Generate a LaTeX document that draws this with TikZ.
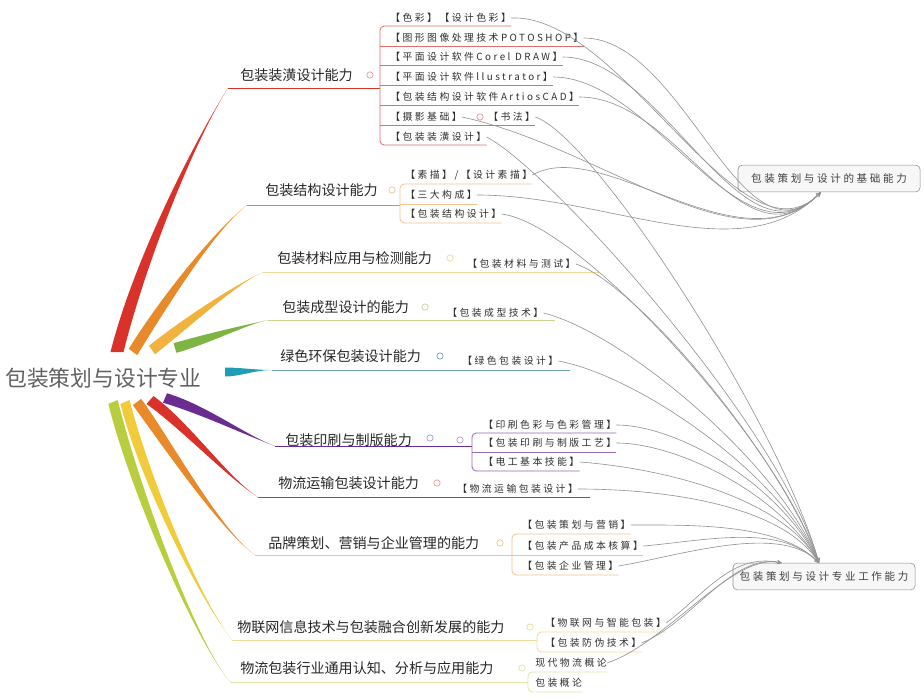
\documentclass[tikz,border=0pt]{standalone}
\usepackage{fontspec}
\newfontfamily\cjk{Noto Sans CJK SC}
\newfontfamily\cjkleaf[LetterSpace=25]{Noto Sans CJK SC}
\usetikzlibrary{calc,arrows.meta}
\definecolor{lred}{HTML}{D9322A}
\definecolor{lpink}{HTML}{DE6F6A}
\definecolor{lorange}{HTML}{E98A2A}
\definecolor{lpeach}{HTML}{F2C28C}
\definecolor{lamber}{HTML}{F1B23E}
\definecolor{lcream}{HTML}{EEDC98}
\definecolor{lgreen}{HTML}{7DB443}
\definecolor{lsage}{HTML}{C6D68E}
\definecolor{lteal}{HTML}{1E9DB4}
\definecolor{lsteel}{HTML}{6FA6B4}
\definecolor{lpurple}{HTML}{6B2C90}
\definecolor{llilac}{HTML}{9467AE}
\definecolor{lyellow}{HTML}{F2CB3A}
\definecolor{llime}{HTML}{B8CE3E}
\definecolor{lpale}{HTML}{DDE6AA}
\newcommand\limb[6]{\fill[#1] ($(#2)-(#6)$) .. controls ($(#3)-(#6)$) and (#4) .. (#5) .. controls (#4) and ($(#3)+(#6)$) .. ($(#2)+(#6)$) -- cycle;}
\tikzset{
  root/.style={font=\cjk\fontsize{15.5}{18}\selectfont, text=black!62, inner sep=0pt, anchor=west},
  topic/.style={font=\cjk\fontsize{10}{12}\selectfont, text=black!85, inner sep=0pt, anchor=west},
  leaf/.style={font=\cjkleaf\fontsize{7}{8.4}\selectfont, text=black!82, inner sep=0pt, anchor=west},
  target/.style={draw=black!45, fill=black!3, rounded corners=3pt, font=\cjkleaf\fontsize{7.5}{9}\selectfont, text=black!75, minimum width=4.55cm, minimum height=0.67cm},
  knob/.style={circle, draw=#1, line width=0.5pt, inner sep=0pt, minimum size=4.5pt},
  twig/.style={draw=#1, line width=0.6pt},
  rel/.style={draw=black!42, line width=0.45pt, -{Stealth[length=3.5pt,width=3pt]}}
}
\begin{document}
\begin{tikzpicture}[x=0.025cm, y=-0.025cm, font=\cjk]
\useasboundingbox (0,0) rectangle (924,697);

\node[root] (hub) at (5,378) {包装策划与设计专业};

\limb{lred}{117,352}{140,260}{195,140}{228,88}{6.5,0}
\limb{lorange}{133,352}{165,300}{215,230}{247,205}{4.2,3.1}
\limb{lamber}{152,350}{190,320}{235,285}{263,272}{3,4.3}
\limb{lgreen}{175,348}{210,338}{245,325}{268,320}{1.5,4.8}
\limb{lteal}{225,372}{240,372}{255,370}{272,370}{0,4.5}
\limb{lpurple}{165,398}{205,410}{245,435}{275,446}{-2,4.7}
\limb{lred}{150,400}{185,425}{230,480}{258,497}{-3.5,3.9}
\limb{lorange}{137,402}{165,440}{220,530}{255,555}{-4.2,3.1}
\limb{lyellow}{125,402}{145,480}{200,600}{232,640}{-4.6,2}
\limb{llime}{113,402}{135,490}{195,640}{230,682}{-4.7,1.9}

\node[topic] (t1) at (240,75) {包装装潢设计能力};
\node[topic] (t2) at (265,190) {包装结构设计能力};
\node[topic] (t3) at (277,258) {包装材料应用与检测能力};
\node[topic] (t4) at (282,307) {包装成型设计的能力};
\node[topic] (t5) at (280,356) {绿色环保包装设计能力};
\node[topic] (t6) at (285,440) {包装印刷与制版能力};
\node[topic] (t7) at (278,483) {物流运输包装设计能力};
\node[topic] (t8) at (268,543) {品牌策划、营销与企业管理的能力};
\node[topic] (t9) at (237,627) {物联网信息技术与包装融合创新发展的能力};
\node[topic] (t10) at (240,668) {物流包装行业通用认知、分析与应用能力};

\node[knob=lpink!70] (k1) at (370,75) {};
\node[knob=lpeach] (k2) at (392,190) {};
\node[knob=lcream] (k3) at (450,258) {};
\node[knob=lsage] (k4) at (425,307) {};
\node[knob=lsteel] (k5) at (440,356) {};
\node[knob=llilac!70] (k6) at (430,438) {};
\node[knob=llilac!70] (k6b) at (460,440) {};
\node[knob=lpink!70] (k7) at (437,483) {};
\node[knob=lpeach] (k8) at (500,543) {};
\node[knob=lcream] (k9) at (530,627) {};
\node[knob=lpale] (k10) at (522,668) {};

\node[leaf] (l1) at (390,18) {【色彩】【设计色彩】};
\node[leaf] (l2) at (390,38) {【图形图像处理技术POTOSHOP】};
\node[leaf] (l3) at (390,57) {【平面设计软件Corel DRAW】};
\node[leaf] (l4) at (390,77) {【平面设计软件llustrator】};
\node[leaf] (l5) at (390,97) {【包装结构设计软件ArtiosCAD】};
\node[leaf] (l6) at (390,117) {【摄影基础】};
\node[knob=lpink!70] (k6l) at (480,117) {};
\node[leaf] (l7) at (488,117) {【书法】};
\node[leaf] (l8) at (390,137) {【包装装潢设计】};

\node[leaf] (s1) at (405,175) {【素描】/【设计素描】};
\node[leaf] (s2) at (405,195) {【三大构成】};
\node[leaf] (s3) at (405,214) {【包装结构设计】};
\node[leaf] (m1) at (467,264) {【包装材料与测试】};
\node[leaf] (f1) at (447,313) {【包装成型技术】};
\node[leaf] (g1) at (462,361) {【绿色包装设计】};
\node[leaf] (p1) at (483,425) {【印刷色彩与色彩管理】};
\node[leaf] (p2) at (483,443) {【包装印刷与制版工艺】};
\node[leaf] (p3) at (483,462) {【电工基本技能】};
\node[leaf] (w1) at (457,489) {【物流运输包装设计】};
\node[leaf] (r1) at (522,525) {【包装策划与营销】};
\node[leaf] (r2) at (522,546) {【包装产品成本核算】};
\node[leaf] (r3) at (522,566) {【包装企业管理】};
\node[leaf] (i1) at (545,623) {【物联网与智能包装】};
\node[leaf] (i2) at (545,643) {【包装防伪技术】};
\node[leaf] (n1) at (535,663) {现代物流概论};
\node[leaf] (n2) at (535,683) {包装概论};

\draw[twig=lred] (228,88) -- (380,88);
\draw[twig=lpink, rounded corners=3pt] (l1.east |- 0,26) -- (380,26) -- (380,145) -- (l8.east |- 0,145);
\draw[twig=lpink] (380,46) -- (l2.east |- 0,46);
\draw[twig=lpink] (380,65) -- (l3.east |- 0,65);
\draw[twig=lpink] (380,85) -- (l4.east |- 0,85);
\draw[twig=lpink] (380,105) -- (l5.east |- 0,105);
\draw[twig=lpink] (380,125) -- (l7.east |- 0,125);

\draw[twig=lorange] (247,205) -- (400,205);
\draw[twig=lpeach, rounded corners=3pt] (s1.east |- 0,184) -- (400,184) -- (400,223) -- (s3.east |- 0,223);
\draw[twig=lpeach] (400,204) -- (s2.east |- 0,204);

\draw[twig=lcream] (263,272) -- (600,272);
\draw[twig=lsage] (268,320) -- (555,320);
\draw[twig=lsteel] (272,370) -- (570,370);

\draw[twig=lpurple] (275,446) -- (472,446);
\draw[twig=llilac, rounded corners=3pt] (p1.east |- 0,433) -- (472,433) -- (472,471) -- (p3.east |- 0,471);
\draw[twig=llilac] (472,452) -- (p2.east |- 0,452);

\draw[twig=lred] (258,497) -- (590,497);

\draw[twig=lpeach] (255,555) -- (r2.east |- 0,555);
\draw[twig=lpeach, rounded corners=3pt] (r1.east |- 0,534) -- (512,534) -- (512,575) -- (r3.east |- 0,575);

\draw[twig=lcream] (232,640) -- (537,640);
\draw[twig=lcream, rounded corners=3pt] (i1.east |- 0,632) -- (537,632) -- (537,652) -- (i2.east |- 0,652);

\draw[twig=lpale] (230,682) -- (528,682);
\draw[twig=lpale, rounded corners=3pt] (n1.east |- 0,672) -- (528,672) -- (528,692) -- (n2.east |- 0,692);

\node[target] (base) at (829,178.5) {包装策划与设计的基础能力};
\node[target] (pro) at (824,576.5) {包装策划与设计专业工作能力};
\coordinate (basein) at (821,192);
\coordinate (proin) at (819,563);
\coordinate (proside) at (782,563);

\draw[rel] (l1.east) .. controls +(110,-5) and +(-80,80) .. (basein);
\draw[rel] (l2.east) .. controls +(100,0) and +(-80,80) .. (basein);
\draw[rel] (l3.east) .. controls +(100,0) and +(-80,80) .. (basein);
\draw[rel] (l4.east) .. controls +(100,0) and +(-80,80) .. (basein);
\draw[rel] (l5.east) .. controls +(100,0) and +(-80,80) .. (basein);
\draw[rel] (l6.east) .. controls +(140,30) and +(-80,80) .. (basein);
\draw[rel] (s1.east) .. controls +(70,-40) and +(-80,80) .. (basein);
\draw[rel] (s2.east) .. controls +(130,0) and +(-80,80) .. (basein);

\draw[rel] (l7.east) .. controls +(60,20) and +(-40,-140) .. (proin);
\draw[rel] (l8.east) .. controls +(60,30) and +(-40,-140) .. (proin);
\draw[rel] (s3.east) .. controls +(80,10) and +(-40,-120) .. (proin);
\draw[rel] (m1.east) .. controls +(60,20) and +(-40,-110) .. (proin);
\draw[rel] (f1.east) .. controls +(80,20) and +(-40,-100) .. (proin);
\draw[rel] (g1.east) .. controls +(80,15) and +(-40,-90) .. (proin);
\draw[rel] (p1.east) .. controls +(60,0) and +(-40,-80) .. (proin);
\draw[rel] (p2.east) .. controls +(60,0) and +(-40,-70) .. (proin);
\draw[rel] (p3.east) .. controls +(70,5) and +(-40,-70) .. (proin);
\draw[rel] (w1.east) .. controls +(80,0) and +(-40,-60) .. (proin);
\draw[rel] (r1.east) .. controls +(60,0) and +(-40,-40) .. (proin);
\draw[rel] (r2.east) .. controls +(60,-5) and +(-40,-40) .. (proin);
\draw[rel] (r3.east) .. controls +(60,-10) and +(-40,-40) .. (proin);

\draw[rel] (i1.east) .. controls +(40,-30) and +(-50,-10) .. (proside);
\draw[rel] (i2.east) .. controls +(50,-20) and +(-50,-10) .. (proside);
\draw[rel] (n1.east) .. controls +(60,-20) and +(-50,-10) .. (proside);
\end{tikzpicture}
\end{document}
